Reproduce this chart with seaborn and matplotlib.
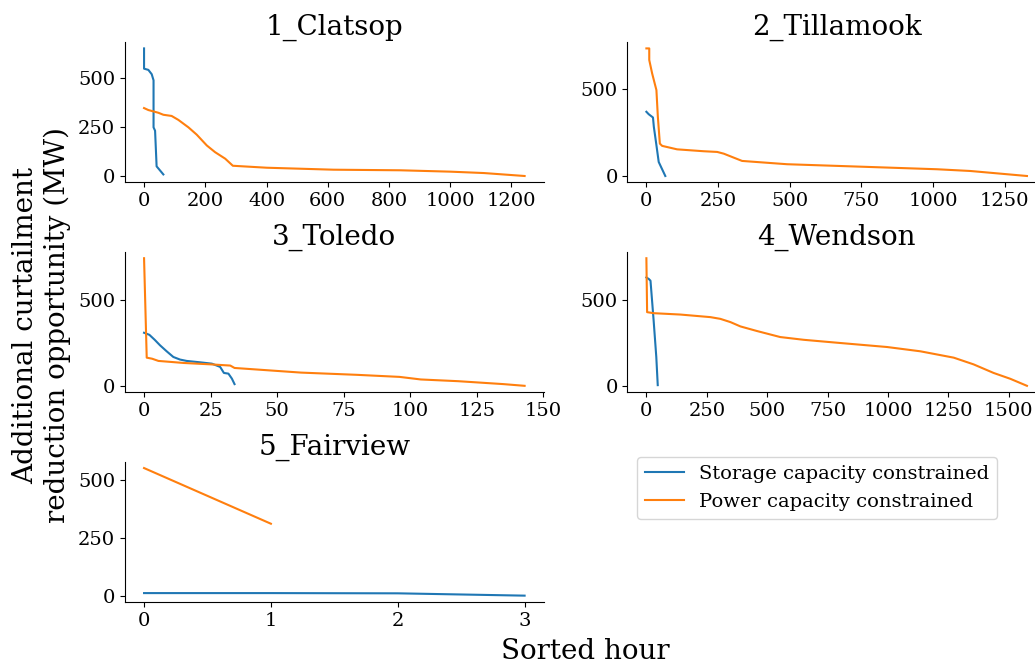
import pandas as pd
import seaborn as sns
import matplotlib.pyplot as plt

sites = ["1_Clatsop", "2_Tillamook", "3_Toledo", "4_Wendson", "5_Fairview"]
series_names = ["Storage capacity constrained", "Power capacity constrained"]

# breakpoints: sorted hour -> MW
clatsop_storage_hr = [0, 0, 14, 25, 31, 31, 36, 41, 63]
clatsop_storage_mw = [648, 545, 539, 517, 486, 247, 230, 49, 8]
clatsop_power_hr = [0, 14, 47, 63, 90, 112, 145, 172, 205, 232, 265, 290, 401, 619, 837, 1001, 1110, 1243]
clatsop_power_mw = [345, 335, 321, 311, 305, 285, 247, 210, 155, 121, 88, 52, 42, 32, 29, 22, 15, 0]

tillamook_storage_hr = [0, 8, 23, 26, 35, 43, 66]
tillamook_storage_mw = [371, 357, 338, 284, 178, 81, 0]
tillamook_power_hr = [0, 10, 10, 20, 35, 40, 47, 55, 107, 200, 247, 270, 305, 334, 491, 781, 1014, 1130, 1328]
tillamook_power_mw = [737, 737, 670, 593, 496, 342, 187, 174, 154, 143, 139, 129, 106, 87, 68, 52, 39, 29, 0]

toledo_storage_hr = [0, 2, 4, 6, 8.5, 11, 13.5, 16, 21, 25.5, 28.6, 30, 31.7, 33, 34]
toledo_storage_mw = [309, 297, 268, 236, 201, 168, 153, 145, 137, 129, 110, 75, 71, 42, 10]
toledo_power_hr = [0, 1, 3, 5.4, 15, 25, 32.4, 34, 40.5, 59, 80, 96, 104, 118, 135, 143]
toledo_power_mw = [743, 164, 158, 145, 133, 125, 118, 104, 97, 77, 64, 52, 37, 27, 10, 0]

wendson_storage_hr = [0, 10, 17, 30, 41, 47]
wendson_storage_mw = [631, 622, 612, 380, 168, 4]
wendson_power_hr = [0, 3, 30, 141, 265, 306, 348, 389, 458, 554, 651, 789, 996, 1134, 1272, 1354, 1437, 1506, 1575]
wendson_power_mw = [743, 429, 423, 415, 400, 390, 371, 346, 319, 284, 268, 251, 226, 201, 164, 125, 75, 41, 0]

fairview_storage_hr = [0, 1, 2, 3]
fairview_storage_mw = [14, 14, 13, 3]
fairview_power_hr = [0, 1]
fairview_power_mw = [553, 313]

site_data = {
    "1_Clatsop": (clatsop_storage_hr, clatsop_storage_mw, clatsop_power_hr, clatsop_power_mw),
    "2_Tillamook": (tillamook_storage_hr, tillamook_storage_mw, tillamook_power_hr, tillamook_power_mw),
    "3_Toledo": (toledo_storage_hr, toledo_storage_mw, toledo_power_hr, toledo_power_mw),
    "4_Wendson": (wendson_storage_hr, wendson_storage_mw, wendson_power_hr, wendson_power_mw),
    "5_Fairview": (fairview_storage_hr, fairview_storage_mw, fairview_power_hr, fairview_power_mw),
}

plt.rcParams['font.family'] = ['DejaVu Serif']

fig, axes = plt.subplots(3, 2, figsize=(10.35, 6.65), dpi=100)
# right column runs a little past the figure edge, as in the original
plt.subplots_adjust(left=0.1208, right=1.0106, top=0.9368, bottom=0.0947, wspace=0.2, hspace=0.495)

palette = {series_names[0]: "tab:blue", series_names[1]: "tab:orange"}

for ax, site in zip(axes.flat, sites):
    s_hr, s_mw, p_hr, p_mw = site_data[site]
    df = pd.concat([
        pd.DataFrame({"hour": s_hr, "mw": s_mw, "type": series_names[0]}),
        pd.DataFrame({"hour": p_hr, "mw": p_mw, "type": series_names[1]}),
    ])
    sns.lineplot(data=df, x="hour", y="mw", hue="type", palette=palette,
                 sort=False, estimator=None, linewidth=1.5, ax=ax, legend=False)
    ax.set_title(site, fontsize=20, pad=5)
    ax.set_xlabel("")
    ax.set_ylabel("")
    ax.tick_params(labelsize=14)
    sns.despine(ax=ax)

axes[0, 0].set_xticks([0, 200, 400, 600, 800, 1000, 1200])
axes[0, 0].set_yticks([0, 250, 500])
axes[0, 1].set_xticks([0, 250, 500, 750, 1000, 1250])
axes[0, 1].set_yticks([0, 500])
axes[1, 0].set_xticks([0, 25, 50, 75, 100, 125, 150])
axes[1, 0].set_yticks([0, 500])
axes[1, 1].set_xticks([0, 250, 500, 750, 1000, 1250, 1500])
axes[1, 1].set_yticks([0, 500])
axes[2, 0].set_xticks([0, 1, 2, 3])
axes[2, 0].set_yticks([0, 250, 500])

axes[2, 1].axis("off")
handles = [plt.Line2D([], [], color=palette[n], linewidth=1.5) for n in series_names]
fig.legend(handles, series_names, loc="upper left", bbox_to_anchor=(0.606, 0.327),
           fontsize=14, frameon=True)

fig.supxlabel("Sorted hour", fontsize=20, x=0.566, y=0.0)
fig.supylabel("Additional curtailment\nreduction opportunity (MW)", fontsize=20,
              x=0.012, y=0.511, multialignment="center")

fig.savefig("out.png", dpi=100)
